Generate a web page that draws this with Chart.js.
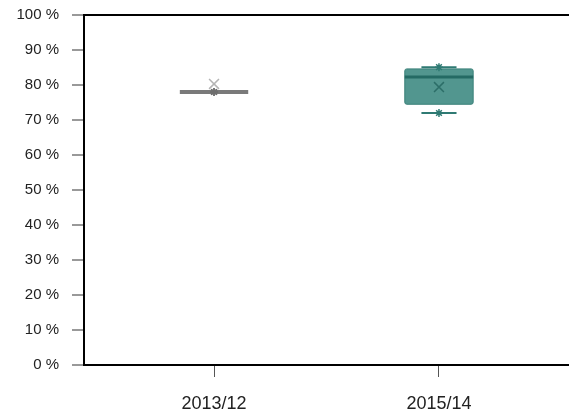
<!DOCTYPE html>
<html>
<head>
<meta charset="utf-8">
<script src="https://cdn.jsdelivr.net/npm/chart.js@4/dist/chart.umd.min.js"></script>
<style>
html,body{margin:0;padding:0;background:#fff;}
#wrap{width:569px;height:414px;position:relative;}
</style>
</head>
<body>
<div id="wrap"><canvas id="c" width="569" height="414"></canvas></div>
<script>
const categories = ['2013/12', '2015/14'];
const minVals = [78, 72];
const q1Vals = [78, 74.5];
const medianVals = [78, 82.3];
const q3Vals = [78, 84.6];
const maxVals = [78, 85.1];
const meanVals = [80.3, 79.4];
const yTickValues = [0, 10, 20, 30, 40, 50, 60, 70, 80, 90, 100];

const boxFill = ['#7f7f7f', '#52968f'];
const boxBorder = ['#7a7a7a', '#3a8078'];
const medianColor = ['#7a7a7a', '#246a64'];
const meanColor = ['#b4b4b4', '#2c6e68'];
const whiskerColor = ['#6e6e6e', '#2f7a73'];

const boxPlugin = {
  id: 'boxplot',
  beforeDatasetsDraw(chart) {
    const ctx = chart.ctx;
    const xs = chart.scales.x, ys = chart.scales.y;
    const halfBox = xs.getPixelForValue(0.152) - xs.getPixelForValue(0);
    const halfCap = xs.getPixelForValue(0.078) - xs.getPixelForValue(0);
    ctx.save();
    categories.forEach((c, i) => {
      const cx = xs.getPixelForValue(i);
      const yq1 = ys.getPixelForValue(q1Vals[i]);
      const yq3 = ys.getPixelForValue(q3Vals[i]);
      const ymed = ys.getPixelForValue(medianVals[i]);
      const ymin = ys.getPixelForValue(minVals[i]);
      const ymax = ys.getPixelForValue(maxVals[i]);
      ctx.strokeStyle = whiskerColor[i];
      ctx.lineWidth = 2;
      ctx.beginPath();
      ctx.moveTo(cx - halfCap, ymax); ctx.lineTo(cx + halfCap, ymax);
      ctx.moveTo(cx - halfCap, ymin); ctx.lineTo(cx + halfCap, ymin);
      ctx.stroke();
      const h = yq1 - yq3;
      if (h > 1) {
        ctx.fillStyle = boxFill[i];
        ctx.strokeStyle = boxBorder[i];
        ctx.lineWidth = 1;
        ctx.beginPath();
        if (ctx.roundRect) ctx.roundRect(cx - halfBox, yq3, halfBox * 2, h, 2);
        else ctx.rect(cx - halfBox, yq3, halfBox * 2, h);
        ctx.fill();
        ctx.stroke();
      }
      ctx.strokeStyle = medianColor[i];
      ctx.lineWidth = h > 1 ? 3 : 4;
      ctx.beginPath();
      ctx.moveTo(cx - halfBox, ymed); ctx.lineTo(cx + halfBox, ymed);
      ctx.stroke();
    });
    ctx.restore();
  },
  afterDraw(chart) {
    const ctx = chart.ctx, a = chart.chartArea;
    ctx.save();
    ctx.strokeStyle = '#000';
    ctx.lineWidth = 2;
    ctx.beginPath();
    ctx.moveTo(a.left, a.top);
    ctx.lineTo(a.right, a.top);
    ctx.stroke();
    ctx.restore();
  }
};

const meanPoints = categories.map((c, i) => ({x: i, y: meanVals[i]}));
const whiskerPoints = [];
const whiskerColors = [];
categories.forEach((c, i) => {
  whiskerPoints.push({x: i, y: maxVals[i]}); whiskerColors.push(whiskerColor[i]);
  whiskerPoints.push({x: i, y: minVals[i]}); whiskerColors.push(whiskerColor[i]);
});

new Chart(document.getElementById('c'), {
  type: 'scatter',
  data: {
    datasets: [
      {
        label: 'whiskers',
        data: whiskerPoints,
        pointStyle: 'star',
        radius: 4,
        borderWidth: 1.5,
        pointBorderColor: whiskerColors,
        pointBackgroundColor: whiskerColors
      },
      {
        label: 'mean',
        data: meanPoints,
        pointStyle: 'crossRot',
        radius: 7,
        borderWidth: 1.5,
        pointBorderColor: meanColor,
        pointBackgroundColor: meanColor
      }
    ]
  },
  options: {
    responsive: false,
    animation: false,
    events: [],
    layout: {autoPadding: false, padding: {top: 15, right: 0, left: 0, bottom: 0}},
    plugins: {legend: {display: false}, tooltip: {enabled: false}},
    scales: {
      x: {
        type: 'linear',
        min: -0.578,
        max: 1.578,
        afterBuildTicks(scale) { scale.ticks = categories.map((c, i) => ({value: i})); },
        afterFit(scale) { scale.height = 49; scale.paddingLeft = 0; scale.paddingRight = 0; },
        ticks: {
          callback: (v) => categories[v],
          font: {family: '"Liberation Sans", Arial, sans-serif', size: 18},
          color: '#222',
          padding: 16,
          maxRotation: 0
        },
        grid: {drawOnChartArea: false, drawTicks: true, tickLength: 12, color: '#555', lineWidth: 1},
        border: {display: true, color: '#000', width: 2}
      },
      y: {
        min: 0,
        max: 100,
        afterBuildTicks(scale) { scale.ticks = yTickValues.map(v => ({value: v})); },
        afterFit(scale) { scale.width = 84; scale.paddingTop = 0; scale.paddingBottom = 0; },
        ticks: {
          callback: (v) => v + ' %',
          font: {family: '"Liberation Sans", Arial, sans-serif', size: 15},
          color: '#222',
          padding: 13
        },
        grid: {drawOnChartArea: false, drawTicks: true, tickLength: 12, color: '#999', lineWidth: 2},
        border: {display: true, color: '#000', width: 2}
      }
    }
  },
  plugins: [boxPlugin]
});
</script>
</body>
</html>
